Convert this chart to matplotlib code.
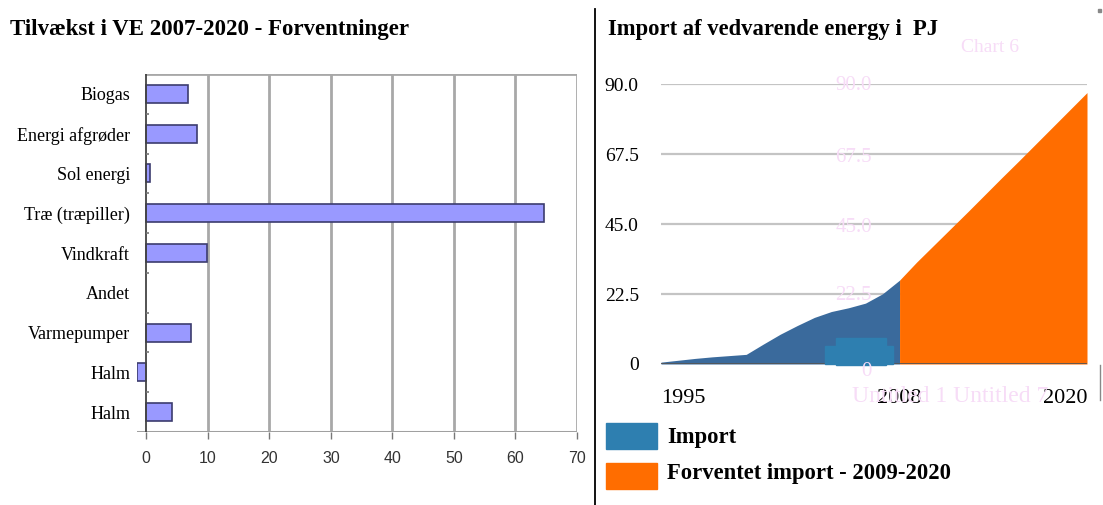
import matplotlib
matplotlib.use("Agg")
import matplotlib.pyplot as plt
from matplotlib.patches import Rectangle
import numpy as np

# Venstre diagram: tilvækst i VE 2007-2020
kategorier = ["Biogas", "Energi afgrøder", "Sol energi", "Træ (træpiller)", "Vindkraft",
              "Andet", "Varmepumper", "Halm", "Halm"]
tilvaekst = [6.8, 8.3, 0.6, 64.7, 9.9, 0.0, 7.3, -1.5, 4.2]
x_ticks = [0, 10, 20, 30, 40, 50, 60, 70]

# Højre diagram: import af vedvarende energi i PJ
aar_import = [1995, 1996, 1997, 1998, 1999, 2000, 2001, 2002, 2003, 2004, 2005, 2006, 2007, 2008, 2009]
import_pj = [0.6, 1.2, 1.8, 2.3, 2.7, 3.1, 6.4, 9.6, 12.4, 15.0, 16.9, 18.1, 19.6, 22.6, 27.0]
aar_forv = [2009, 2010, 2011, 2012, 2013, 2014, 2015, 2016, 2017, 2018, 2019, 2020]
forv_pj = [27.0, 32.8, 38.2, 43.6, 49.0, 54.5, 60.0, 65.4, 70.9, 76.4, 81.9, 87.4]
y_ticks = [0, 22.5, 45.0, 67.5, 90.0]
y_labels = ["0", "22.5", "45.0", "67.5", "90.0"]
aar_ticks = [1995, 2009, 2020]
aar_labels = ["1995", "2008", "2020"]

W, H = 1103, 505
SERIF = ["Liberation Serif", "DejaVu Serif"]
SANS = ["Liberation Sans", "DejaVu Sans"]
PINK = "#f7dcf7"
BLAA = "#3a6a9c"
BLAA2 = "#2e7fb0"
ORANGE = "#ff6d00"


def px(x, y):
    return x / W, 1 - y / H


fig = plt.figure(figsize=(W / 100, H / 100), dpi=100)

# ---------- venstre ----------
ax = fig.add_axes([137 / W, 1 - 432 / H, 440 / W, 358 / H])
pos = np.arange(len(kategorier))
lw_kant = [1.2 if v != 0 else 0 for v in tilvaekst]
ax.barh(pos, tilvaekst, height=0.45, color="#9999ff", edgecolor="#3c3c6e", linewidth=lw_kant, zorder=3)
ax.set_ylim(len(kategorier) - 0.5, -0.5)
ax.set_xlim(-1.5, 70)
for s in ax.spines.values():
    s.set_visible(False)
for v in x_ticks[1:]:
    ax.axvline(v, color="#a8a8a8", lw=2, zorder=1)
ax.axhline(-0.5, xmin=1.5 / 71.5, color="#a8a8a8", lw=2, zorder=1)
ax.axhline(len(kategorier) - 0.5, color="#a0a0a0", lw=2.2, zorder=4)
ax.axvline(0, color="#444444", lw=1.3, zorder=4)
# små markeringer mellem kategorierne
ax.hlines(pos[:-1] + 0.5, 0, 0.5, color="#777777", lw=1.2, zorder=4)
ax.set_yticks(pos)
ax.set_yticklabels(kategorier, family=SERIF, fontsize=13)
ax.tick_params(axis="y", length=0, pad=5)
ax.set_xticks(x_ticks)
ax.set_xticklabels([str(v) for v in x_ticks], family=SANS, fontsize=11.5, color="#333333")
ax.tick_params(axis="x", length=5, width=1, color="#777777", pad=9)

fig.text(*px(10, 30), "Tilvækst i VE 2007-2020 - Forventninger", family=SERIF, fontsize=16.5,
         fontweight="bold", ha="left", va="center")

# skillelinje
fig.add_artist(plt.Line2D([595 / W, 595 / W], [0, 1 - 9 / H], color="black", lw=1.3))
fig.add_artist(plt.Line2D([1100 / W, 1100 / W], [1 - 365 / H, 1 - 400 / H], color="#888888", lw=1))
fig.add_artist(Rectangle(px(1098, 12), 3 / W, 3 / H, color="#888888"))

# ---------- højre ----------
ax2 = fig.add_axes([661 / W, 1 - 364 / H, 426 / W, 279.5 / H])
ax2.fill_between(aar_import, import_pj, color=BLAA, lw=0, zorder=3)
ax2.fill_between(aar_forv, forv_pj, color=ORANGE, lw=0, zorder=3)
ax2.set_xlim(1995, 2020)
ax2.set_ylim(0, 90)
for s in ax2.spines.values():
    s.set_visible(False)
for v in y_ticks[1:]:
    ax2.axhline(v, color="#c4c4c4", lw=1.6, zorder=1)
ax2.axhline(0, color="#555555", lw=2, zorder=4)
ax2.set_yticks(y_ticks)
ax2.set_yticklabels(y_labels, family=SERIF, fontsize=14)
ax2.tick_params(axis="y", length=0, pad=16)
ax2.set_xticks(aar_ticks)
ax2.set_xticklabels(aar_labels, family=SERIF, fontsize=16)
ax2.tick_params(axis="x", length=0, pad=18)
xl = ax2.get_xticklabels()
xl[0].set_ha("left")
xl[-1].set_ha("right")

# spøgelses-firkant (legendefelt) midt i diagrammet
fig.add_artist(Rectangle(px(825, 364), 68 / W, 18 / H, color=BLAA2, zorder=5))
fig.add_artist(Rectangle(px(836, 365), 50 / W, 27 / H, color=BLAA2, zorder=5))

# svage lyserøde tekster
fig.text(*px(990, 48), "Chart 6", family=SERIF, fontsize=14, color=PINK, ha="center", va="center", zorder=6)
for lab, yy in zip(["90.0", "67.5", "45.0", "22.5", "0"], [86, 157, 227, 296, 372]):
    fig.text(*px(872, yy), lab, family=SERIF, fontsize=15, color=PINK, ha="right", va="center", zorder=6)
fig.text(*px(852, 396), "Untitled 1 Untitled 7", family=SERIF, fontsize=17, color=PINK,
         ha="left", va="center", zorder=0)

fig.text(*px(608, 30), "Import af vedvarende energy i  PJ", family=SERIF, fontsize=16.3,
         fontweight="bold", ha="left", va="center")

# legende
fig.add_artist(Rectangle(px(606, 449), 51 / W, 26 / H, color=BLAA2))
fig.add_artist(Rectangle(px(606, 489), 51 / W, 26 / H, color=ORANGE))
fig.text(*px(667, 438), "Import", family=SERIF, fontsize=16.3, fontweight="bold", ha="left", va="center")
fig.text(*px(667, 474), "Forventet import - 2009-2020", family=SERIF, fontsize=16.3, fontweight="bold",
         ha="left", va="center")

fig.savefig("out.png", dpi=100)
